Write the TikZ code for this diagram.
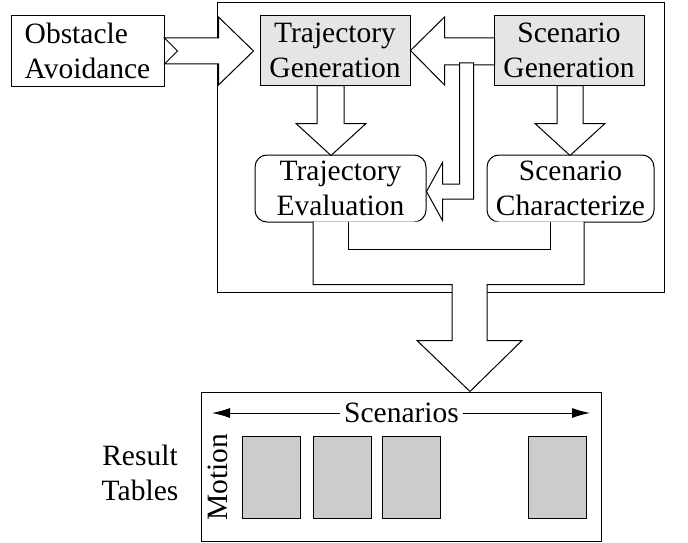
\documentclass[tikz,border=0pt]{standalone}
\usepackage{fontspec}
\setmainfont{Liberation Serif}
\usetikzlibrary{arrows.meta}

\begin{document}
\begin{tikzpicture}[x=1pt, y=-1pt, line width=1pt,
  every node/.style={font=\fontsize{29.5}{35}\selectfont, inner sep=0pt},
  plainbox/.style={draw, align=center},
  genbox/.style={draw, fill=black!10, align=center, minimum width=150, minimum height=69},
  evalbox/.style={draw, rounded corners=12pt, align=center, minimum height=67},
  hollow/.style={draw, fill=white, line join=miter},
  cell/.style={draw, fill=black!20, minimum width=58, minimum height=82},
  tip/.style={-{Latex[length=18pt, width=10pt]}}]

\useasboundingbox (0,0) rectangle (688,543);

% frames
\node[draw, minimum width=447, minimum height=289] (core) at (440.5,147.5) {};
\node[draw, minimum width=400, minimum height=149] (res) at (401,466.5) {};

% blocks
\node[plainbox, align=left, minimum width=153, minimum height=70] (obst) at (87.5,51) {Obstacle\\Avoidance};
\node[genbox] (tgen) at (335,50.5) {Trajectory\\Generation};
\node[genbox] (sgen) at (569,50.5) {Scenario\\Generation};
\node[evalbox, minimum width=171] (teval) at (340.5,188.5) {Trajectory\\Evaluation};
\node[evalbox, minimum width=167] (schar) at (570.5,188.5) {Scenario\\Characterize};

% obstacle avoidance feeds trajectory generation (notched tail)
\draw[hollow, shift={(obst.east)}]
  (0,-13) -- (54,-13) -- (54,-34) -- (89,0) -- (54,34) -- (54,13) -- (0,13) -- (13,0) -- cycle;

% scenario generation feeds trajectory generation
\draw[hollow, shift={(tgen.east)}]
  (0,0) -- (34,-33.5) -- (34,-12.5) -- (84,-12.5) -- (84,14.5) -- (34,14.5) -- (34,34.5) -- cycle;

% branch from that arrow down into trajectory evaluation
\draw[hollow, shift={(teval.east)}]
  (33,-125.5) -- (33,-4.5) -- (16,-4.5) -- (16,-26) -- (0,3) -- (16,32) -- (16,10.5)
  -- (47,10.5) -- (47,-125.5) -- cycle;

% generation -> evaluation / characterization
\draw[hollow, shift={(tgen.south)}]
  (-18,0) -- (-18,38) -- (-39,38) -- (-4,70) -- (31,38) -- (9,38) -- (9,0) -- cycle;
\draw[hollow, shift={(sgen.south)}]
  (-12,0) -- (-12,38) -- (-34,38) -- (1,70) -- (36,38) -- (14,38) -- (14,0) -- cycle;

% merged output into the result tables
\begin{scope}[shift={(res.north)}]
  \fill[white] (-88,-170) -- (-88,-107) -- (51,-107) -- (51,-51) -- (16,-51) -- (69,0)
    -- (121,-51) -- (86,-51) -- (86,-107) -- (183,-107) -- (183,-170) -- cycle;
  \draw[line join=miter] (-88,-170) -- (-88,-107) -- (51,-107) -- (51,-51) -- (16,-51) -- (69,0)
    -- (121,-51) -- (86,-51) -- (86,-107) -- (183,-107) -- (183,-170);
  \draw (-53,-170) -- (-53,-142) -- (149,-142) -- (149,-170);
\end{scope}

% result tables
\node[fill=white, inner xsep=4pt] (scen) at (401.5,413) {Scenarios};
\coordinate (sleft) at (212,413);
\coordinate (sright) at (590,413);
\draw[tip] (scen.west) -- (sleft);
\draw[tip] (scen.east) -- (sright);

\node[rotate=90] (motion) at (218,477) {Motion};
\node[cell] (c1) at (271,477) {};
\node[cell] (c2) at (342,477) {};
\node[cell] (c3) at (411.5,477) {};
\node[cell] (c4) at (557,477) {};

\node[align=center] (rt) at (140,473) {Result\\Tables};
\end{tikzpicture}
\end{document}
